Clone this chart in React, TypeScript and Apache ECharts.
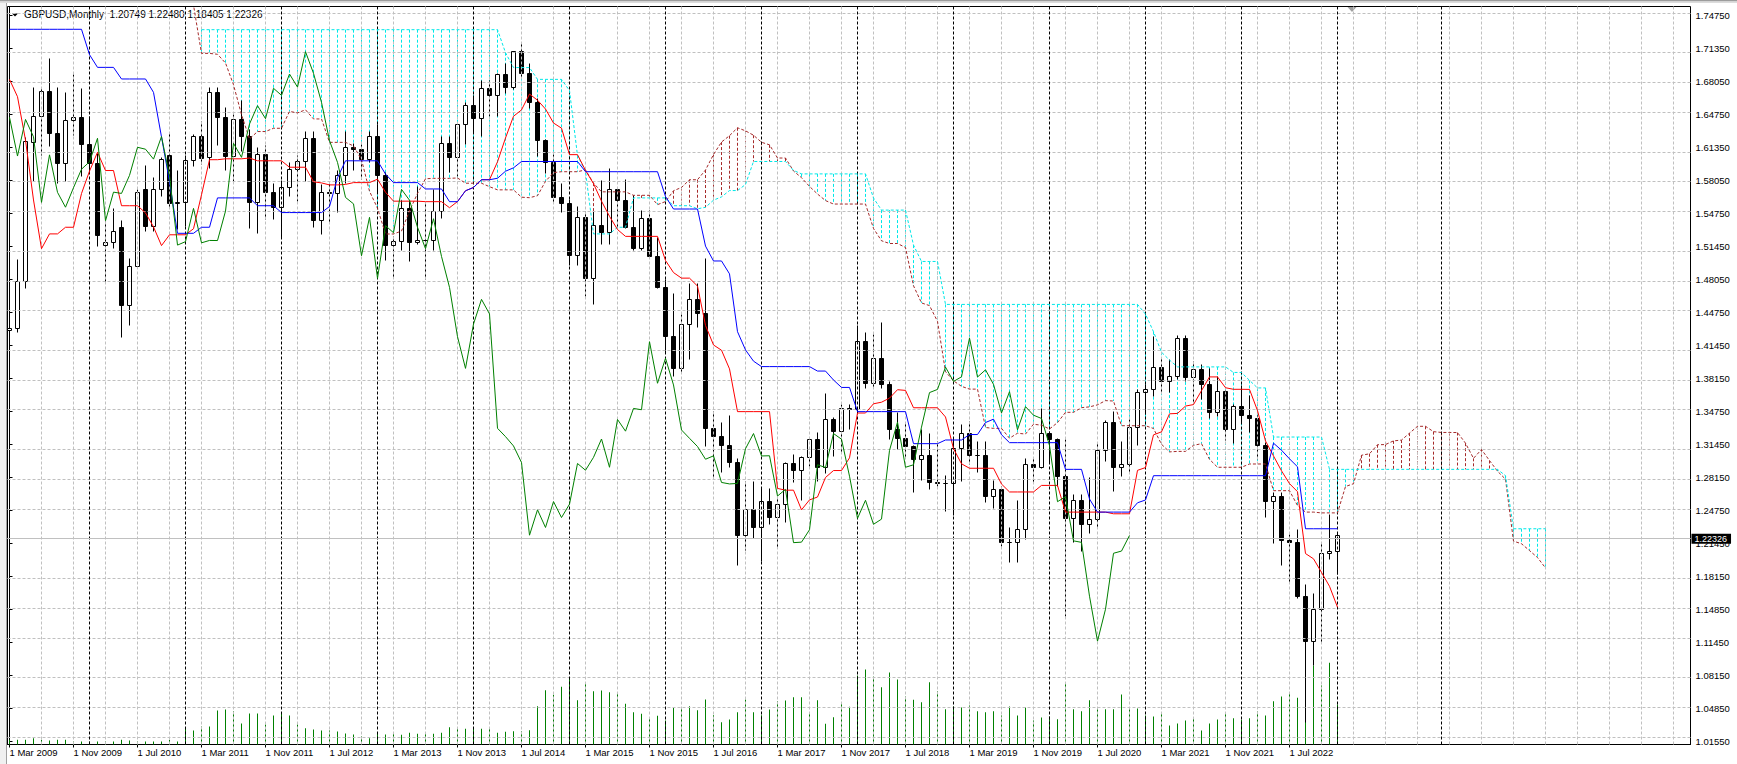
import React, { useEffect, useRef } from "react";
import * as echarts from "echarts";

// ---------- text / labels ----------
const symbolName = "GBPUSD";
const periodName = "Monthly";
const xLabelIndex = [0, 8, 16, 24, 32, 40, 48, 56, 64, 72, 80, 88, 96, 104, 112, 120, 128, 136, 144, 152, 160];
const xLabelText = ["1 Mar 2009", "1 Nov 2009", "1 Jul 2010", "1 Mar 2011", "1 Nov 2011", "1 Jul 2012", "1 Mar 2013", "1 Nov 2013", "1 Jul 2014", "1 Mar 2015", "1 Nov 2015", "1 Jul 2016", "1 Mar 2017", "1 Nov 2017", "1 Jul 2018", "1 Mar 2019", "1 Nov 2019", "1 Jul 2020", "1 Mar 2021", "1 Nov 2021", "1 Jul 2022"];
const yLabelText = ["1.74750", "1.71350", "1.68050", "1.64750", "1.61350", "1.58050", "1.54750", "1.51450", "1.48050", "1.44750", "1.41450", "1.38150", "1.34750", "1.31450", "1.28150", "1.24750", "1.21450", "1.18150", "1.14850", "1.11450", "1.08150", "1.04850", "1.01550"];
const yearStartIndex = [10, 22, 34, 46, 58, 70, 82, 94, 106, 118, 130, 142, 154, 166, 179];

// ---------- monthly candles (index 0 = Mar 2009) ----------
const open = [
  1.4300, 1.4321, 1.4791, 1.6192, 1.6455, 1.6707, 1.6287, 1.5985, 1.6421, 1.6448,
  1.6176, 1.5985, 1.5160, 1.5184, 1.5339, 1.4546, 1.4943, 1.5716, 1.5347, 1.5716,
  1.6059, 1.5575, 1.5592, 1.6011, 1.6258, 1.6043, 1.6702, 1.6448, 1.6058, 1.6427,
  1.6252, 1.5591, 1.6070, 1.5692, 1.5542, 1.5739, 1.5925, 1.6000, 1.6237, 1.5405,
  1.5694, 1.5681, 1.5863, 1.6146, 1.6127, 1.6027, 1.6255, 1.5857, 1.5160, 1.5195,
  1.5530, 1.5183, 1.5207, 1.5206, 1.5503, 1.6186, 1.6045, 1.6381, 1.6566, 1.6435,
  1.6741, 1.6670, 1.6885, 1.6753, 1.7110, 1.6892, 1.6599, 1.6213, 1.5994, 1.5641,
  1.5576, 1.5053, 1.5440, 1.4825, 1.5356, 1.5285, 1.5722, 1.5613, 1.5340, 1.5124,
  1.5426, 1.5046, 1.4734, 1.4237, 1.3917, 1.4364, 1.4613, 1.4466, 1.3313, 1.3229,
  1.3135, 1.2968, 1.2235, 1.2491, 1.2313, 1.2574, 1.2413, 1.2548, 1.2958, 1.2890,
  1.3020, 1.3205, 1.2920, 1.3402, 1.3284, 1.3513, 1.3500, 1.4186, 1.3767, 1.4019,
  1.3750, 1.3296, 1.3212, 1.3129, 1.3001, 1.3035, 1.2767, 1.2752, 1.2757, 1.3107,
  1.3260, 1.3034, 1.3036, 1.2630, 1.2697, 1.2160, 1.2165, 1.2290, 1.2945, 1.2918,
  1.3260, 1.3203, 1.2830, 1.2405, 1.2587, 1.2345, 1.2397, 1.3090, 1.3375, 1.2920,
  1.2945, 1.3325, 1.3673, 1.3705, 1.3930, 1.3785, 1.3832, 1.4222, 1.3830, 1.3902,
  1.3756, 1.3468, 1.3682, 1.3298, 1.3531, 1.3445, 1.3412, 1.3139, 1.2573, 1.2623,
  1.2178, 1.2163, 1.1620, 1.1167, 1.1489, 1.2053, 1.20749,
];
const high = [
  1.4786, 1.5010, 1.6240, 1.6751, 1.6742, 1.7043, 1.6751, 1.6697, 1.6885, 1.6741,
  1.6458, 1.6080, 1.5396, 1.5531, 1.5410, 1.5026, 1.5719, 1.5967, 1.5837, 1.6045,
  1.6299, 1.5911, 1.6060, 1.6279, 1.6403, 1.6747, 1.6746, 1.6546, 1.6474, 1.6618,
  1.6323, 1.6141, 1.6165, 1.5780, 1.5807, 1.5994, 1.6062, 1.6301, 1.6301, 1.5776,
  1.5777, 1.5913, 1.6310, 1.6180, 1.6172, 1.6307, 1.6381, 1.5887, 1.5246, 1.5605,
  1.5605, 1.5752, 1.5580, 1.5717, 1.6259, 1.6260, 1.6384, 1.6602, 1.6668, 1.6823,
  1.6822, 1.6892, 1.6996, 1.7115, 1.7194, 1.6995, 1.6640, 1.6227, 1.6069, 1.5786,
  1.5620, 1.5552, 1.5499, 1.5498, 1.5815, 1.5934, 1.5735, 1.5819, 1.5659, 1.5508,
  1.5508, 1.5240, 1.4815, 1.4668, 1.4459, 1.4770, 1.4769, 1.5026, 1.3481, 1.3373,
  1.3445, 1.3009, 1.2775, 1.2775, 1.2706, 1.2706, 1.2615, 1.2966, 1.3048, 1.3030,
  1.3212, 1.3269, 1.3664, 1.3420, 1.3549, 1.3549, 1.4345, 1.4280, 1.4254, 1.4377,
  1.3780, 1.3473, 1.3363, 1.3135, 1.3298, 1.3257, 1.3176, 1.2840, 1.3215, 1.3350,
  1.3383, 1.3175, 1.3177, 1.2784, 1.2726, 1.2311, 1.2583, 1.3012, 1.3013, 1.3515,
  1.3285, 1.3211, 1.3200, 1.2647, 1.2648, 1.2813, 1.3170, 1.3395, 1.3482, 1.3176,
  1.3398, 1.3703, 1.3759, 1.4241, 1.4017, 1.4009, 1.4250, 1.4249, 1.3983, 1.3959,
  1.3913, 1.3834, 1.3698, 1.3548, 1.3749, 1.3643, 1.3437, 1.3166, 1.2667, 1.2666,
  1.2245, 1.2294, 1.1738, 1.1646, 1.2154, 1.2447, 1.22480,
];
const low = [
  1.3640, 1.4280, 1.4720, 1.5800, 1.6059, 1.6153, 1.5783, 1.5800, 1.6270, 1.5850,
  1.5877, 1.5149, 1.4781, 1.5128, 1.4229, 1.4350, 1.4930, 1.5300, 1.5294, 1.5650,
  1.5537, 1.5313, 1.5347, 1.5950, 1.5977, 1.5933, 1.6167, 1.5910, 1.5779, 1.6102,
  1.5329, 1.5272, 1.5420, 1.5420, 1.5233, 1.5655, 1.5603, 1.5803, 1.5335, 1.5269,
  1.5390, 1.5487, 1.5785, 1.5912, 1.5826, 1.5990, 1.5690, 1.5004, 1.4825, 1.5101,
  1.4995, 1.5170, 1.4814, 1.5107, 1.5425, 1.5895, 1.5855, 1.6175, 1.6281, 1.6251,
  1.6460, 1.6457, 1.6692, 1.6732, 1.6850, 1.6535, 1.6052, 1.5883, 1.5591, 1.5486,
  1.4952, 1.4953, 1.4640, 1.4565, 1.5170, 1.5169, 1.5330, 1.5330, 1.5107, 1.5106,
  1.5026, 1.4725, 1.4079, 1.3835, 1.3880, 1.4005, 1.4331, 1.3128, 1.2798, 1.2866,
  1.2916, 1.1933, 1.2082, 1.2204, 1.1970, 1.2344, 1.2109, 1.2365, 1.2770, 1.2589,
  1.2932, 1.2774, 1.2856, 1.3026, 1.3061, 1.3302, 1.3458, 1.3712, 1.3717, 1.3712,
  1.3205, 1.3099, 1.3013, 1.2662, 1.2785, 1.2696, 1.2723, 1.2476, 1.2436, 1.2773,
  1.2945, 1.2866, 1.2560, 1.2506, 1.2119, 1.1959, 1.1958, 1.2194, 1.2769, 1.2903,
  1.2954, 1.2725, 1.1420, 1.2165, 1.2075, 1.2252, 1.2313, 1.2981, 1.2676, 1.2823,
  1.2853, 1.3135, 1.3451, 1.3637, 1.3672, 1.3669, 1.3800, 1.3787, 1.3571, 1.3602,
  1.3411, 1.3433, 1.3194, 1.3161, 1.3358, 1.3273, 1.2999, 1.2410, 1.2155, 1.1933,
  1.1760, 1.1599, 1.0350, 1.0924, 1.1143, 1.1992, 1.18405,
];
const close = [
  1.4321, 1.4791, 1.6203, 1.6455, 1.6707, 1.6287, 1.5985, 1.6421, 1.6448, 1.6176,
  1.5985, 1.5259, 1.5184, 1.5302, 1.4546, 1.4943, 1.5689, 1.5347, 1.5716, 1.6025,
  1.5575, 1.5592, 1.6011, 1.6257, 1.6033, 1.6702, 1.6448, 1.6058, 1.6427, 1.6252,
  1.5591, 1.6070, 1.5692, 1.5542, 1.5739, 1.5925, 1.6000, 1.6237, 1.5405, 1.5694,
  1.5681, 1.5863, 1.6146, 1.6127, 1.6027, 1.6255, 1.5857, 1.5160, 1.5195, 1.5530,
  1.5183, 1.5207, 1.5206, 1.5503, 1.6186, 1.6045, 1.6381, 1.6566, 1.6435, 1.6741,
  1.6670, 1.6885, 1.6753, 1.7110, 1.6892, 1.6599, 1.6213, 1.5994, 1.5641, 1.5576,
  1.5053, 1.5440, 1.4825, 1.5356, 1.5285, 1.5722, 1.5613, 1.5340, 1.5124, 1.5426,
  1.5046, 1.4734, 1.4237, 1.3917, 1.4364, 1.4613, 1.4466, 1.3313, 1.3229, 1.3135,
  1.2968, 1.2235, 1.2491, 1.2313, 1.2574, 1.2413, 1.2548, 1.2958, 1.2890, 1.3020,
  1.3205, 1.2920, 1.3402, 1.3284, 1.3513, 1.3500, 1.4186, 1.3767, 1.4019, 1.3750,
  1.3296, 1.3212, 1.3129, 1.3001, 1.3035, 1.2767, 1.2752, 1.2757, 1.3107, 1.3260,
  1.3034, 1.3036, 1.2630, 1.2697, 1.2160, 1.2165, 1.2290, 1.2945, 1.2918, 1.3260,
  1.3203, 1.2830, 1.2405, 1.2587, 1.2345, 1.2397, 1.3090, 1.3375, 1.2920, 1.2945,
  1.3325, 1.3673, 1.3705, 1.3930, 1.3785, 1.3832, 1.4222, 1.3830, 1.3902, 1.3756,
  1.3468, 1.3682, 1.3298, 1.3531, 1.3445, 1.3412, 1.3139, 1.2573, 1.2623, 1.2178,
  1.2163, 1.1620, 1.1167, 1.1489, 1.2053, 1.2075, 1.22326,
];
const tickVolume = [
  4700, 4700, 4700, 6300, 4700, 4000, 4700, 4700, 3000, 3000,
  3000, 3000, 3000, 3000, 4700, 4000, 3000, 3000, 3000, 3000,
  4700, 3000, 16700, 14000, 18000, 18000, 34000, 35000, 33300, 21000,
  31000, 31000, 20000, 29000, 30700, 29000, 20000, 16300, 15000, 14000,
  14000, 13000, 11000, 10000, 8300, 6300, 10700, 10000, 10700, 9700,
  11800, 10800, 12300, 10700, 11700, 17300, 17300, 15700, 16700, 15700,
  15700, 11700, 12700, 13300, 13300, 14300, 38300, 54300, 49700, 57700,
  66700, 44300, 60700, 53300, 54000, 52300, 50700, 40700, 32300, 30700,
  26700, 28700, 24000, 37300, 37300, 38300, 34300, 45000, 29300, 22300,
  25000, 32300, 45000, 32300, 29300, 35000, 43300, 44000, 47300, 47300,
  31700, 44300, 20700, 27300, 41000, 37700, 69000, 75000, 68000, 57300,
  72000, 65000, 48000, 44700, 42300, 62300, 53300, 35300, 38000, 37000,
  39000, 33300, 32300, 33300, 29000, 38000, 29000, 37000, 24000, 27000,
  28000, 25300, 62300, 35300, 33300, 44300, 35300, 35300, 35300, 50000,
  35300, 36000, 29000, 28000, 31000, 19000, 21000, 24000, 26300, 14000,
  21000, 25000, 32000, 26300, 24700, 26300, 33000, 29000, 43300, 48000,
  52300, 46700, 75000, 79000, 59000, 81700, 40000,
];

// ---------- Ichimoku (9, 26, 52) ----------
const tenkanSen = [
  1.6831, 1.6656, 1.6218, 1.5615, 1.5124, 1.5273, 1.5273, 1.5340, 1.5340, 1.5680,
  1.5906, 1.6096, 1.5912, 1.5912, 1.5557, 1.5557, 1.5557, 1.5485, 1.5344, 1.5155,
  1.5264, 1.5264, 1.5264, 1.5325, 1.5667, 1.6021, 1.6021, 1.6030, 1.6030, 1.6030,
  1.6038, 1.6010, 1.6010, 1.6010, 1.6010, 1.5945, 1.5945, 1.5945, 1.5798, 1.5787,
  1.5767, 1.5767, 1.5772, 1.5790, 1.5790, 1.5790, 1.5825, 1.5693, 1.5603, 1.5603,
  1.5603, 1.5603, 1.5598, 1.5598, 1.5598, 1.5537, 1.5599, 1.5708, 1.5741, 1.5819,
  1.5819, 1.6000, 1.6240, 1.6459, 1.6523, 1.6683, 1.6621, 1.6532, 1.6391, 1.6339,
  1.6072, 1.6072, 1.5913, 1.5780, 1.5603, 1.5450, 1.5317, 1.5248, 1.5248, 1.5248,
  1.5248, 1.5248, 1.5005, 1.4883, 1.4827, 1.4827, 1.4747, 1.4350, 1.4153, 1.4100,
  1.3912, 1.3481, 1.3481, 1.3481, 1.3481, 1.3481, 1.2707, 1.2689, 1.2689, 1.2491,
  1.2591, 1.2620, 1.2817, 1.2887, 1.2887, 1.3015, 1.3467, 1.3467, 1.3560, 1.3576,
  1.3617, 1.3702, 1.3695, 1.3520, 1.3520, 1.3520, 1.3520, 1.3427, 1.3108, 1.2955,
  1.2910, 1.2910, 1.2910, 1.2910, 1.2751, 1.2671, 1.2671, 1.2671, 1.2671, 1.2737,
  1.2737, 1.2737, 1.2468, 1.2468, 1.2468, 1.2468, 1.2468, 1.2468, 1.2451, 1.2451,
  1.2451, 1.2889, 1.2917, 1.3247, 1.3277, 1.3459, 1.3463, 1.3537, 1.3552, 1.3693,
  1.3831, 1.3831, 1.3722, 1.3706, 1.3706, 1.3705, 1.3491, 1.3185, 1.3034, 1.2884,
  1.2755, 1.2674, 1.2050, 1.1997, 1.1860, 1.1720, 1.1509,
];
const kijunSen = [
  1.7336, 1.7336, 1.7336, 1.7336, 1.7336, 1.7336, 1.7336, 1.7336, 1.7336, 1.7336,
  1.7080, 1.6952, 1.6952, 1.6952, 1.6835, 1.6835, 1.6835, 1.6835, 1.6700, 1.6250,
  1.5800, 1.5279, 1.5279, 1.5279, 1.5340, 1.5340, 1.5636, 1.5636, 1.5636, 1.5636,
  1.5636, 1.5557, 1.5557, 1.5557, 1.5488, 1.5488, 1.5488, 1.5488, 1.5488, 1.5488,
  1.5549, 1.5839, 1.6010, 1.6010, 1.6010, 1.6010, 1.6010, 1.5876, 1.5790, 1.5790,
  1.5790, 1.5790, 1.5726, 1.5726, 1.5726, 1.5598, 1.5598, 1.5708, 1.5741, 1.5819,
  1.5819, 1.5834, 1.5905, 1.5939, 1.6003, 1.6003, 1.6003, 1.6003, 1.6003, 1.6003,
  1.6003, 1.6003, 1.5900, 1.5900, 1.5900, 1.5900, 1.5900, 1.5900, 1.5900, 1.5900,
  1.5900, 1.5900, 1.5650, 1.5524, 1.5524, 1.5524, 1.5524, 1.5150, 1.5000, 1.5000,
  1.4870, 1.4287, 1.4103, 1.3990, 1.3935, 1.3935, 1.3935, 1.3935, 1.3935, 1.3935,
  1.3935, 1.3890, 1.3890, 1.3800, 1.3725, 1.3725, 1.3481, 1.3481, 1.3481, 1.3481,
  1.3481, 1.3481, 1.3481, 1.3158, 1.3158, 1.3158, 1.3158, 1.3195, 1.3195, 1.3195,
  1.3250, 1.3250, 1.3371, 1.3405, 1.3248, 1.3168, 1.3168, 1.3168, 1.3168, 1.3168,
  1.3168, 1.3168, 1.2899, 1.2899, 1.2899, 1.2600, 1.2468, 1.2468, 1.2468, 1.2468,
  1.2468, 1.2562, 1.2590, 1.2835, 1.2835, 1.2835, 1.2835, 1.2835, 1.2835, 1.2835,
  1.2835, 1.2835, 1.2835, 1.2835, 1.2835, 1.2835, 1.2835, 1.2835, 1.3163, 1.3092,
  1.3005, 1.2925, 1.2300, 1.2300, 1.2300, 1.2300, 1.2300,
];
// Senkou spans are plotted 26 bars ahead (index 0..192); null = above the visible range
const senkouSpanA = [
  null, null, null, null, null, null, null, null, null, null,
  null, null, null, null, null, null, null, null, null, null,
  null, null, 1.8000, 1.7580, 1.7093, 1.7093, 1.7084, 1.6996, 1.6777, 1.6476,
  1.6230, 1.6305, 1.6305, 1.6338, 1.6338, 1.6508, 1.6493, 1.6524, 1.6432, 1.6432,
  1.6196, 1.6196, 1.6196, 1.6160, 1.6022, 1.5703, 1.5532, 1.5272, 1.5272, 1.5302,
  1.5504, 1.5681, 1.5829, 1.5833, 1.5833, 1.5833, 1.5837, 1.5784, 1.5784, 1.5784,
  1.5749, 1.5717, 1.5717, 1.5717, 1.5643, 1.5638, 1.5658, 1.5803, 1.5891, 1.5900,
  1.5900, 1.5900, 1.5918, 1.5785, 1.5697, 1.5697, 1.5697, 1.5697, 1.5662, 1.5662,
  1.5662, 1.5568, 1.5599, 1.5708, 1.5741, 1.5819, 1.5819, 1.5917, 1.6073, 1.6199,
  1.6263, 1.6343, 1.6312, 1.6268, 1.6197, 1.6171, 1.6038, 1.6038, 1.5907, 1.5840,
  1.5752, 1.5675, 1.5609, 1.5574, 1.5574, 1.5574, 1.5574, 1.5574, 1.5328, 1.5204,
  1.5176, 1.5176, 1.5136, 1.4750, 1.4577, 1.4550, 1.4391, 1.3884, 1.3792, 1.3736,
  1.3708, 1.3708, 1.3321, 1.3312, 1.3312, 1.3213, 1.3263, 1.3255, 1.3354, 1.3344,
  1.3306, 1.3370, 1.3474, 1.3474, 1.3521, 1.3529, 1.3549, 1.3592, 1.3588, 1.3339,
  1.3339, 1.3339, 1.3339, 1.3311, 1.3152, 1.3075, 1.3080, 1.3080, 1.3141, 1.3158,
  1.3000, 1.2920, 1.2920, 1.2920, 1.2920, 1.2953, 1.2953, 1.2953, 1.2684, 1.2684,
  1.2684, 1.2534, 1.2468, 1.2468, 1.2460, 1.2460, 1.2460, 1.2726, 1.2754, 1.3041,
  1.3056, 1.3147, 1.3149, 1.3186, 1.3194, 1.3264, 1.3333, 1.3333, 1.3279, 1.3271,
  1.3271, 1.3270, 1.3163, 1.3010, 1.3099, 1.2988, 1.2880, 1.2800, 1.2175, 1.2149,
  1.2080, 1.2010, 1.1905,
];
const senkouSpanB = [
  null, null, null, null, null, null, null, null, null, null,
  null, null, null, null, null, null, null, null, null, null,
  null, null, null, null, 1.7332, 1.7332, 1.7332, 1.7332, 1.7332, 1.7332,
  1.7332, 1.7332, 1.7332, 1.7332, 1.7332, 1.7332, 1.7332, 1.7332, 1.7332, 1.7332,
  1.7332, 1.7332, 1.7332, 1.7332, 1.7332, 1.7332, 1.7332, 1.7332, 1.7332, 1.7332,
  1.7332, 1.7332, 1.7332, 1.7332, 1.7332, 1.7332, 1.7332, 1.7332, 1.7332, 1.7332,
  1.7332, 1.7332, 1.7100, 1.6950, 1.6950, 1.6950, 1.6831, 1.6831, 1.6831, 1.6831,
  1.6718, 1.6063, 1.5900, 1.5273, 1.5273, 1.5273, 1.5340, 1.5340, 1.5636, 1.5636,
  1.5636, 1.5636, 1.5636, 1.5557, 1.5557, 1.5557, 1.5526, 1.5541, 1.5613, 1.5646,
  1.5710, 1.5710, 1.5771, 1.6003, 1.6003, 1.6003, 1.6003, 1.6003, 1.5913, 1.5878,
  1.5878, 1.5878, 1.5878, 1.5878, 1.5878, 1.5878, 1.5878, 1.5878, 1.5635, 1.5513,
  1.5513, 1.5513, 1.5513, 1.5160, 1.4995, 1.4995, 1.4995, 1.4562, 1.4562, 1.4562,
  1.4562, 1.4562, 1.4562, 1.4562, 1.4562, 1.4562, 1.4562, 1.4562, 1.4562, 1.4562,
  1.4562, 1.4562, 1.4562, 1.4562, 1.4562, 1.4562, 1.4562, 1.4562, 1.4562, 1.4562,
  1.4562, 1.4562, 1.4464, 1.4287, 1.4080, 1.4001, 1.3932, 1.3932, 1.3932, 1.3932,
  1.3932, 1.3932, 1.3932, 1.3876, 1.3876, 1.3796, 1.3720, 1.3720, 1.3225, 1.3225,
  1.3225, 1.3225, 1.3225, 1.3225, 1.3225, 1.2899, 1.2899, 1.2899, 1.2899, 1.2899,
  1.2899, 1.2899, 1.2899, 1.2899, 1.2899, 1.2899, 1.2899, 1.2899, 1.2899, 1.2899,
  1.2899, 1.2899, 1.2899, 1.2899, 1.2899, 1.2899, 1.2899, 1.2835, 1.2300, 1.2300,
  1.2300, 1.2300, 1.2300,
];
const chikouShift = 26;

// ---------- layout constants (pixels) ----------
const W = 1737;
const H = 764;
const GRID_LEFT = 7.5;
const GRID_TOP = 6.5;
const GRID_W = 1683;
const GRID_H = 738;
const BAR_PX = 8;
const FIRST_BAR_X = 9.5;
const LABEL_TOP_VALUE = 1.7475;
const LABEL_BOTTOM_VALUE = 1.0155;
const LABEL_TOP_Y = 15.5;
const LABEL_STEP_PX = 33;

const FONT = "'Liberation Sans', Arial, sans-serif";
const C_TENKAN = "#ff0000";
const C_KIJUN = "#0000ff";
const C_CHIKOU = "#008000";
const C_SPAN_A = "#a52a2a";
const C_SPAN_B = "#00e8e8";
const C_GRID = "#c0c0c0";

export default function App() {
  const ref = useRef<HTMLDivElement>(null);

  useEffect(() => {
    document.body.style.margin = "0";
    if (!ref.current) return;
    const chart = echarts.init(ref.current, undefined, { renderer: "svg" });

    const labelStepValue = (LABEL_TOP_VALUE - LABEL_BOTTOM_VALUE) / (yLabelText.length - 1);
    const pxPerUnit = LABEL_STEP_PX / labelStepValue;
    const yMax = LABEL_TOP_VALUE + (LABEL_TOP_Y - GRID_TOP) / pxPerUnit;
    const yMin = yMax - GRID_H / pxPerUnit;
    const xMin = -(FIRST_BAR_X - GRID_LEFT) / BAR_PX;
    const xMax = xMin + GRID_W / BAR_PX;
    const yTickValues = yLabelText.map((_, k) => LABEL_TOP_VALUE - k * labelStepValue);

    const last = close.length - 1;
    const f5 = (v: number) => v.toFixed(5);
    const header = `${symbolName},${periodName}\u00a0 ${f5(open[last])} ${f5(high[last])} ${f5(low[last])} ${f5(close[last])}`;

    const candleData = open.map((o, i) => [i, o, high[i], low[i], close[i]]);
    const volumeData = tickVolume.map((v, i) => [i, v]);
    const toLine = (arr: (number | null)[]) => arr.map((v, i) => [i, v]);
    // Chikou span: each close drawn 26 bars back
    const chikouData = close.slice(chikouShift).map((v, i) => [i, v]);
    const cloudData = senkouSpanA
      .map((a, j) => [j, a, senkouSpanB[j]])
      .filter((d) => d[1] != null && d[2] != null);

    const gridCount = Math.floor(xMax / 4);
    const grayVerticals = Array.from({ length: gridCount }, (_, k) => 4 * (k + 1));

    const dash = [3, 2];
    const gridLines: any[] = [];
    yTickValues.forEach((v) => gridLines.push({ yAxis: v, lineStyle: { color: C_GRID, type: dash, width: 1 } }));
    grayVerticals.forEach((v) => gridLines.push({ xAxis: v, lineStyle: { color: C_GRID, type: dash, width: 1 } }));
    yearStartIndex.forEach((v) => gridLines.push({ xAxis: v, lineStyle: { color: "#000", type: dash, width: 1 } }));

    const snap = (v: number) => Math.round(v - 0.5) + 0.5;

    const option: any = {
      animation: false,
      backgroundColor: "#fff",
      textStyle: { fontFamily: FONT },
      grid: { left: GRID_LEFT, top: GRID_TOP, width: GRID_W, height: GRID_H, show: true, borderColor: "#000", borderWidth: 1, backgroundColor: "transparent" },
      xAxis: {
        type: "value",
        min: xMin,
        max: xMax,
        axisLine: { show: true, lineStyle: { color: "#000", width: 1 } },
        splitLine: { show: false },
        axisTick: { show: true, customValues: xLabelIndex, length: 3, lineStyle: { color: "#000" } },
        axisLabel: {
          show: true,
          customValues: xLabelIndex,
          align: "left",
          margin: 3,
          color: "#000",
          fontSize: 9.5,
          fontFamily: FONT,
          formatter: (v: number) => {
            const k = xLabelIndex.indexOf(Math.round(v));
            return k >= 0 ? xLabelText[k] : "";
          },
        },
      },
      yAxis: [
        {
          type: "value",
          position: "right",
          min: yMin,
          max: yMax,
          axisLine: { show: true, lineStyle: { color: "#000", width: 1 } },
          splitLine: { show: false },
          axisTick: { show: true, customValues: yTickValues, length: 3, lineStyle: { color: "#000" } },
          axisLabel: {
            show: true,
            customValues: yTickValues,
            margin: 5,
            color: "#000",
            fontSize: 9.5,
            fontFamily: FONT,
            formatter: (v: number) => {
              const k = Math.round((LABEL_TOP_VALUE - v) / labelStepValue);
              return yLabelText[k] ?? "";
            },
          },
        },
        {
          type: "value",
          position: "left",
          show: false,
          min: 0,
          max: GRID_H * 1000,
          splitLine: { show: false },
        },
      ],
      graphic: [
        { type: "rect", silent: true, shape: { x: 0, y: 0, width: W, height: 1.5 }, style: { fill: "#9c9c9c" } },
        { type: "rect", silent: true, shape: { x: 0, y: 1.5, width: W, height: 1.5 }, style: { fill: "#dcdcdc" } },
        { type: "rect", silent: true, shape: { x: 0, y: 3, width: 6, height: H - 3 }, style: { fill: "#f0f0f0" } },
        { type: "line", silent: true, shape: { x1: 6.5, y1: 3, x2: 6.5, y2: H }, style: { stroke: "#a0a0a0", lineWidth: 1 } },
        { type: "polygon", silent: true, shape: { points: [[12, 13.5], [18, 13.5], [15, 16.5]] }, style: { fill: "#000" } },
        {
          type: "text",
          silent: true,
          left: 24,
          top: 9.5,
          style: { text: header, fill: "#000", fontSize: 10, fontFamily: FONT },
        },
        { type: "polygon", silent: true, shape: { points: [[1347.5, 7], [1356.5, 7], [1352, 12]] }, style: { fill: "#a0a0a0" } },
      ],
      series: [
        {
          name: "grid",
          type: "line",
          data: [],
          z: 1,
          silent: true,
          markLine: {
            silent: true,
            animation: false,
            symbol: ["none", "none"],
            label: { show: false },
            emphasis: { disabled: true },
            data: gridLines,
          },
        },
        {
          name: "Kumo",
          type: "custom",
          z: 2,
          silent: true,
          clip: true,
          data: cloudData,
          encode: { x: 0, y: [1, 2] },
          renderItem: (params: any, api: any) => {
            const j = api.value(0);
            const a = api.value(1);
            const b = api.value(2);
            const pa = api.coord([j, a]);
            const pb = api.coord([j, b]);
            const x = snap(pa[0]);
            return {
              type: "line",
              shape: { x1: x, y1: Math.min(pa[1], pb[1]), x2: x, y2: Math.max(pa[1], pb[1]) },
              style: { stroke: a >= b ? C_SPAN_A : C_SPAN_B, lineWidth: 1, lineDash: dash },
            };
          },
        },
        {
          name: "Volumes",
          type: "bar",
          yAxisIndex: 1,
          z: 3,
          silent: true,
          barWidth: 1,
          data: volumeData,
          itemStyle: { color: "#008000" },
        },
        {
          name: symbolName,
          type: "custom",
          z: 4,
          silent: true,
          clip: true,
          data: candleData,
          encode: { x: 0, y: [1, 2, 3, 4] },
          renderItem: (params: any, api: any) => {
            const i = api.value(0);
            const o = api.value(1);
            const h = api.value(2);
            const l = api.value(3);
            const c = api.value(4);
            const ph = api.coord([i, h]);
            const pl = api.coord([i, l]);
            const po = api.coord([i, o]);
            const pc = api.coord([i, c]);
            const x = snap(ph[0]);
            const top = snap(Math.min(po[1], pc[1]));
            const bot = snap(Math.max(po[1], pc[1]));
            const bull = c >= o;
            return {
              type: "group",
              children: [
                { type: "line", shape: { x1: x, y1: snap(ph[1]), x2: x, y2: snap(pl[1]) }, style: { stroke: "#000", lineWidth: 1 } },
                { type: "rect", shape: { x: x - 2, y: top, width: 4, height: bot - top }, style: { fill: bull ? "#fff" : "#000", stroke: "#000", lineWidth: 1 } },
              ],
            };
          },
          markLine: {
            silent: true,
            animation: false,
            symbol: ["none", "none"],
            emphasis: { disabled: true },
            data: [{ yAxis: close[last] }],
            lineStyle: { color: "#c0c0c0", type: "solid", width: 1 },
            label: {
              show: true,
              position: "end",
              distance: 1,
              formatter: () => f5(close[last]),
              color: "#fff",
              backgroundColor: "#000",
              padding: [0, 4, 0, 3],
              lineHeight: 10,
              fontSize: 9,
              fontFamily: FONT,
            },
          },
        },
        {
          name: "Senkou Span A",
          type: "line",
          z: 5,
          silent: true,
          showSymbol: false,
          symbol: "none",
          data: toLine(senkouSpanA),
          lineStyle: { color: C_SPAN_A, width: 1, type: dash },
        },
        {
          name: "Senkou Span B",
          type: "line",
          z: 5,
          silent: true,
          showSymbol: false,
          symbol: "none",
          data: toLine(senkouSpanB),
          lineStyle: { color: C_SPAN_B, width: 1, type: dash },
        },
        {
          name: "Tenkan-sen",
          type: "line",
          z: 6,
          silent: true,
          showSymbol: false,
          symbol: "none",
          data: toLine(tenkanSen),
          lineStyle: { color: C_TENKAN, width: 1 },
        },
        {
          name: "Kijun-sen",
          type: "line",
          z: 6,
          silent: true,
          showSymbol: false,
          symbol: "none",
          data: toLine(kijunSen),
          lineStyle: { color: C_KIJUN, width: 1 },
        },
        {
          name: "Chikou Span",
          type: "line",
          z: 6,
          silent: true,
          showSymbol: false,
          symbol: "none",
          data: chikouData,
          lineStyle: { color: C_CHIKOU, width: 1 },
        },
      ],
    };

    chart.setOption(option);
    return () => {
      chart.dispose();
    };
  }, []);

  return <div ref={ref} style={{ width: W, height: H, display: "block" }} />;
}
